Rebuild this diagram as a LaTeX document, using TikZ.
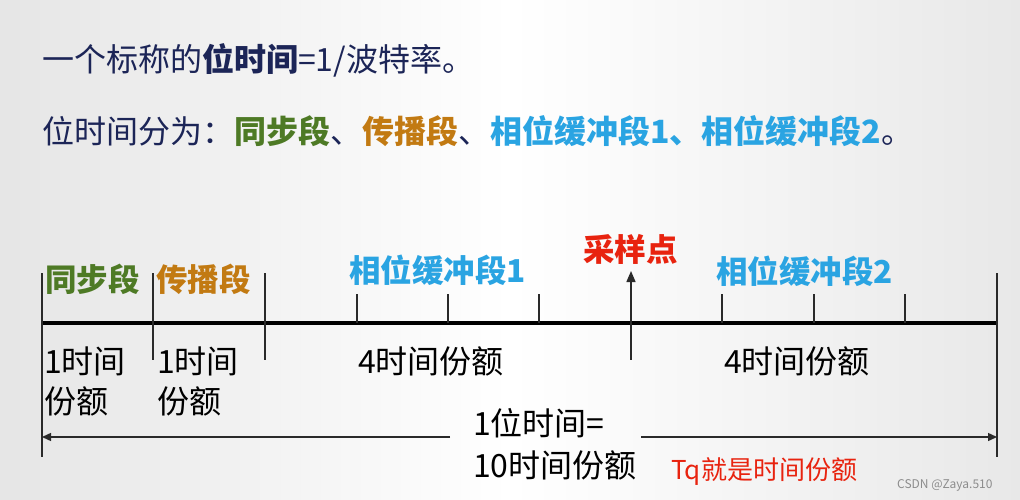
\documentclass[tikz,border=0pt]{standalone}
\usepackage{fontspec}
\setmainfont{Noto Sans CJK SC}
\usetikzlibrary{arrows.meta}
\definecolor{navy}{HTML}{1C2557}
\definecolor{syncgreen}{HTML}{4E7A25}
\definecolor{proporange}{HTML}{C27A12}
\definecolor{phaseblue}{HTML}{2AA4E2}
\definecolor{samplered}{HTML}{E8230F}
\definecolor{tickgray}{HTML}{2A2A2A}
\begin{document}
\begin{tikzpicture}[x=1pt,y=-1pt,
  txt/.style={inner sep=0pt,anchor=base west},
  head/.style={txt,text=navy,font=\fontsize{32}{38}\selectfont},
  lbl/.style={txt,font=\fontsize{31.5}{38}\selectfont\bfseries},
  cnt/.style={txt,text=black,font=\fontsize{32}{40}\selectfont,align=left},
  axisline/.style={line width=4pt,black},
  tickline/.style={line width=1.4pt,tickgray},
  dimline/.style={line width=1.4pt,tickgray,-{Triangle[length=9pt,width=8pt]}}]
\shade[left color=black!10, right color=black!9, middle color=white] (0,0) rectangle (1020,500);
\useasboundingbox (0,0) rectangle (1020,500);

% headings
\node[head] (h1) at (42,72) {一个标称的\textbf{位时间}=1/波特率。};
\node[head] (h2) at (42,144) {位时间分为：{\bfseries\color{syncgreen}同步段}、{\bfseries\color{proporange}传播段}、{\bfseries\color{phaseblue}相位缓冲段1、相位缓冲段2}。};

% axis coordinates
\coordinate (a0) at (42,323);
\coordinate (a10) at (997,323);
\foreach \i/\x in {1/153,2/265,3/357,4/448,5/539,6/631,7/722,8/814,9/905}{
  \coordinate (a\i) at (\x,323);
}
\draw[axisline] (a0) -- (a10);

% tall ticks above
\foreach \i in {0,1,2,10}{
  \draw[tickline] (a\i) -- ++(0,-50);
}
% short ticks above
\foreach \i in {3,4,5,7,8,9}{
  \draw[tickline] (a\i) -- ++(0,-29);
}
% sample point arrow
\coordinate (sp) at (631,271);
\draw[tickline,-{Triangle[length=11pt,width=9pt]}] (a6) -- (sp);

% ticks below
\foreach \i in {1,2,6}{
  \draw[tickline] ([yshift=12pt]a\i) -- ++(0,49);
}
\coordinate (dl) at (42,437);
\coordinate (dr) at (997,437);
\draw[tickline] ([yshift=12pt]a0) -- (42,457);
\draw[tickline] ([yshift=12pt]a10) -- (997,457);

% labels above
\node[lbl,text=syncgreen] (ls) at (45,291) {同步段};
\node[lbl,text=proporange] (lp) at (156,291) {传播段};
\node[lbl,text=phaseblue] (lb1) at (349,282) {相位缓冲段1};
\node[lbl,text=samplered] (lsp) at (583,261) {采样点};
\node[lbl,text=phaseblue] (lb2) at (716,283) {相位缓冲段2};

% counts below
\node[cnt] (c1) at (44,413) {1时间\\份额};
\node[cnt] (c2) at (157,413) {1时间\\份额};
\node[cnt] (c3) at (358,373) {4时间份额};
\node[cnt] (c4) at (724,373) {4时间份额};

% total bit time
\node[cnt] (tot1) at (473,435) {1位时间=};
\node[cnt] (tot2) at (473,477) {10时间份额};
\coordinate (gl) at (450,437);
\coordinate (gr) at (641,437);
\draw[dimline] (gl) -- (dl);
\draw[dimline] (gr) -- (dr);

\node[txt,text=samplered,font=\fontsize{26}{30}\selectfont] (tq) at (671,479) {Tq就是时间份额};
\node[txt,text=black!45,font=\fontsize{12}{14}\selectfont] (wm) at (897,488) {CSDN @Zaya.510};
\end{tikzpicture}
\end{document}
